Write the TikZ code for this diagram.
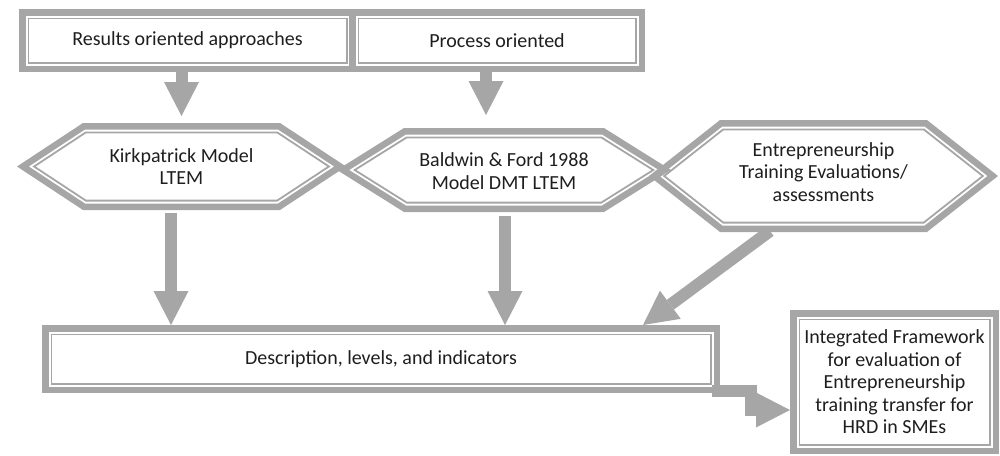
\documentclass[tikz,border=0pt]{standalone}
\usepackage{fontspec}
\setmainfont{Carlito}
\usetikzlibrary{arrows.meta,calc}
\definecolor{frame}{HTML}{A6A6A6}
\definecolor{ink}{HTML}{1E1E1E}
\tikzset{
  band/.style={draw=frame, line width=6.5pt, line join=miter},
  rim/.style={draw=frame, line width=1.8pt, line join=miter},
  txt/.style={text=ink, font=\fontsize{20}{22.5}\selectfont, align=center, inner sep=0pt},
  framebox/.style={band, txt, rectangle},
  bigarrow/.style={draw=frame, line width=12pt, line join=miter,
    -{Triangle[length=34pt, width=35pt, line width=0pt 0 0]}},
}
% thin inner line of a framed box
\newcommand{\rimbox}[1]{%
  \draw[rim] ($(#1.north west)+(9.4,9.4)$) rectangle ($(#1.south east)+(-9.4,-9.4)$);}
% one outline of a hexagon, inset from the outer edge
% cx, cy, half width, half height, slant, inset, style
\newcommand{\hexring}[7]{%
  \pgfmathsetmacro{\hxSin}{sin(atan(#4/#5))}%
  \pgfmathsetmacro{\hxH}{#4-#6}%
  \pgfmathsetmacro{\hxW}{#3-#6/\hxSin}%
  \pgfmathsetmacro{\hxS}{#5*\hxH/#4}%
  \draw[#7] (#1-\hxW,#2) -- (#1-\hxW+\hxS,#2-\hxH) -- (#1+\hxW-\hxS,#2-\hxH)
    -- (#1+\hxW,#2) -- (#1+\hxW-\hxS,#2+\hxH) -- (#1-\hxW+\hxS,#2+\hxH) -- cycle;}
% framed hexagon with its text: name, cx, cy, half width, half height, slant, text shift, text
\newcommand{\hexframe}[8]{%
  \hexring{#2}{#3}{#4}{#5}{#6}{3.25}{band}%
  \hexring{#2}{#3}{#4}{#5}{#6}{9.4}{rim}%
  \node[txt] (#1) at (#2,#3+#7) {#8};
  \coordinate (#1-n) at (#2,#3-#5);
  \coordinate (#1-s) at (#2,#3+#5);}

\begin{document}
\begin{tikzpicture}[x=1pt, y=-1pt]
\useasboundingbox (0,0) rectangle (1000,455);

% top row of approaches
\node[framebox, minimum width=330.5pt, minimum height=56.5pt] (top1) at (187.5,40.5) {Results oriented approaches};
\rimbox{top1}
\node[framebox, minimum width=289.5pt, minimum height=56.5pt] (top2) at (497,40.5) {Process oriented};
\rimbox{top2}

% models
\hexframe{hex1}{181.5}{166.5}{164.5}{43.5}{66}{0}{Kirkpatrick Model\\LTEM}
\hexframe{hex2}{504}{170}{167}{42}{67}{1}{Baldwin \& Ford 1988\\Model DMT LTEM}
\hexframe{hex3}{823.5}{176}{174.5}{56}{71}{-4}{Entrepreneurship\\Training Evaluations/\\assessments}

% common description and the resulting framework
\node[framebox, minimum width=671.5pt, minimum height=61.5pt] (desc) at (381,359) {Description, levels, and indicators};
\rimbox{desc}
\node[framebox, minimum width=202.5pt, minimum height=137.5pt] (integ) at (894.5,382)
  {Integrated Framework\\for evaluation of\\Entrepreneurship\\training transfer for\\HRD in SMEs};
\rimbox{integ}

% connectors
\coordinate (a1) at (top1.south -| hex1-n);
\draw[bigarrow] (a1) -- ($(hex1-n)+(0,-7)$);
\coordinate (a2) at ($(top2.south)+(-11,0)$);
\draw[bigarrow] (a2) -- ($(a2 |- hex2-n)+(0,-13)$);

\coordinate (a3) at ($(hex1-s)+(-10.5,3)$);
\draw[bigarrow] (a3) -- (a3 |- desc.north);
\coordinate (a4) at ($(hex2-s)+(1,4)$);
\draw[bigarrow] (a4) -- (a4 |- desc.north);
\coordinate (a5) at ($(hex3-s)+(-53.5,-1)$);
\draw[bigarrow] (a5) -- ($(desc.north east)+(-77,0)$);

\coordinate (a6) at ($(desc.south east)+(-8,-2)$);
\coordinate (b6) at ($(integ.west)+(0,28)$);
\draw[bigarrow] (a6) -| ($(b6)+(-39,0)$) -- (b6);
\end{tikzpicture}
\end{document}
